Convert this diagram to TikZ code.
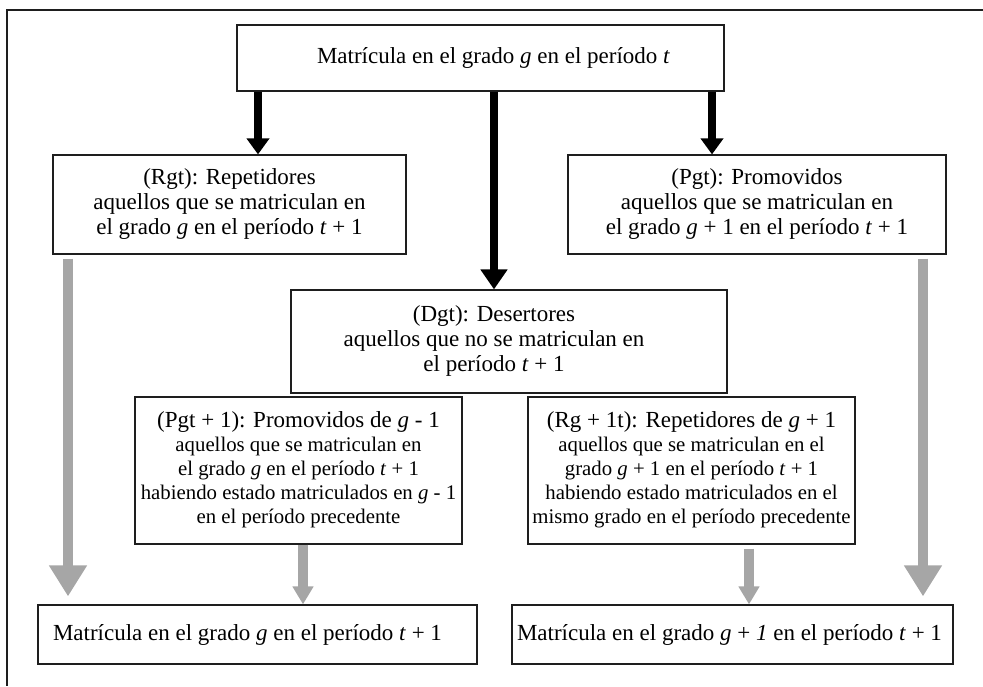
\documentclass[tikz,border=0pt]{standalone}
\usepackage{fontspec}
\setmainfont{Liberation Serif}
\usetikzlibrary{arrows.meta}
\definecolor{graya}{RGB}{166,166,166}
\definecolor{edge}{RGB}{30,30,30}
\newcommand{\stk}[1]{\begin{tabular}{@{}c@{}}#1\end{tabular}}
\newcommand{\ttl}[1]{{\fontsize{23}{24}\selectfont #1}}
\begin{document}
\begin{tikzpicture}[x=1pt,y=-1pt,
  box/.style={draw=edge, line width=1.2pt, inner sep=0pt, anchor=center},
  big/.style={font=\fontsize{23}{25}\selectfont},
  small/.style={font=\fontsize{20.8}{24}\selectfont},
  blk/.style={line width=8pt, black, -{Triangle[width=22pt,length=16pt]}},
  blkm/.style={line width=8pt, black, -{Triangle[width=26pt,length=20pt]}},
  gbig/.style={line width=10pt, graya, -{Triangle[width=36pt,length=31pt]}},
  gsm/.style={line width=10pt, graya, -{Triangle[width=20pt,length=18pt]}}]
\useasboundingbox (0,0) rectangle (983,686);
\draw[edge, line width=1.5pt] (983,10) -- (7,10) -- (7,686);

\node[box, big, minimum width=487pt, minimum height=66pt] (top) at (480.5,58)
  {\hspace*{26pt}Matrícula en el grado \textit{g} en el período \textit{t}};
\node[box, big, minimum width=353pt, minimum height=99pt] (rgt) at (229.5,204.5)
  {\stk{(Rgt): Repetidores\\aquellos que se matriculan en\\el grado \textit{g} en el período \textit{t} + 1}};
\node[box, big, minimum width=378pt, minimum height=99pt] (pgt) at (757,204.5)
  {\stk{(Pgt): Promovidos\\aquellos que se matriculan en\\el grado \textit{g} + 1 en el período \textit{t} + 1}};
\node[box, big, minimum width=436pt, minimum height=103pt] (dgt) at (509,341.5)
  {\hspace*{-30pt}\stk{(Dgt): Desertores\\aquellos que no se matriculan en\\el período \textit{t} + 1}};
\node[box, small, minimum width=327pt, minimum height=147pt] (pgt1) at (298.5,470.5)
  {\stk{\ttl{(Pgt + 1): Promovidos de \textit{g} - 1}\\aquellos que se matriculan en\\el grado \textit{g} en el período \textit{t} + 1\\habiendo estado matriculados en \textit{g} - 1\\en el período precedente}};
\node[box, small, minimum width=327pt, minimum height=147pt] (rg1t) at (691.5,470.5)
  {\stk{\ttl{(Rg + 1t): Repetidores de \textit{g} + 1}\\aquellos que se matriculan en el\\grado \textit{g} + 1 en el período \textit{t} + 1\\habiendo estado matriculados en el\\mismo grado en el período precedente}};
\node[box, big, minimum width=439pt, minimum height=59pt] (bl) at (257.5,634.5)
  {\hspace*{-20pt}Matrícula en el grado \textit{g} en el período \textit{t} + 1};
\node[box, big, minimum width=441pt, minimum height=59pt] (br) at (732.5,634.5)
  {\hspace*{-6pt}Matrícula en el grado \textit{g} + \textit{1} en el período \textit{t} + 1};

\coordinate (xl) at (258,0);
\coordinate (xm) at (494,0);
\coordinate (xr) at (712,0);
\coordinate (gl) at (68,0);
\coordinate (gr) at (923,0);
\coordinate (sl) at (303,0);
\coordinate (sr) at (749,0);

\draw[blk] (top.south -| xl) -- (rgt.north -| xl);
\draw[blkm] (top.south -| xm) -- (dgt.north -| xm);
\draw[blk] (top.south -| xr) -- (pgt.north -| xr);
\draw[gbig, shorten <=4pt, shorten >=8pt] (rgt.south -| gl) -- (bl.north -| gl);
\draw[gbig, shorten <=4pt, shorten >=8pt] (pgt.south -| gr) -- (br.north -| gr);
\draw[gsm] (pgt1.south -| sl) -- (bl.north -| sl);
\draw[gsm, shorten <=4pt] (rg1t.south -| sr) -- (br.north -| sr);
\end{tikzpicture}
\end{document}
